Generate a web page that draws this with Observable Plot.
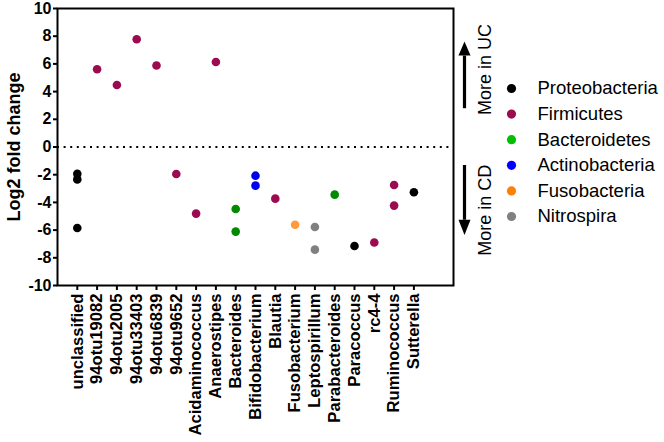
<!DOCTYPE html>
<html>
<head>
<meta charset="utf-8">
<script src="https://cdn.jsdelivr.net/npm/d3@7"></script>
<script src="https://cdn.jsdelivr.net/npm/@observablehq/plot@0.6"></script>
<style>
  html, body { margin: 0; padding: 0; background: white; }
  g[aria-label="y-axis tick label"] { font-size: 16px !important; font-weight: bold; }
  g[aria-label="x-axis tick label"] { font-size: 16.6px !important; font-weight: bold; }
</style>
</head>
<body>
<div id="chart"></div>
<script>
const genera = ["unclassified","94otu19082","94otu2005","94otu33403","94otu6839","94otu9652","Acidaminococcus","Anaerostipes","Bacteroides","Bifidobacterium","Blautia","Fusobacterium","Leptospirillum","Parabacteroides","Paracoccus","rc4-4","Ruminococcus","Sutterella"];
const phyla = ["Proteobacteria","Firmicutes","Bacteroidetes","Actinobacteria","Fusobacteria","Nitrospira"];
const dotColors = ["#000000","#9c0a4f","#008a00","#0000f0","#ff9a3a","#808080"];
const legendColors = ["#000000","#9c0a4f","#00c000","#0000ff","#ff8000","#808080"];
const yTicks = [-10,-8,-6,-4,-2,0,2,4,6,8,10];

const pointGenus = ["unclassified","unclassified","unclassified","94otu19082","94otu2005","94otu33403","94otu6839","94otu9652","Acidaminococcus","Anaerostipes","Bacteroides","Bacteroides","Bifidobacterium","Bifidobacterium","Blautia","Fusobacterium","Leptospirillum","Leptospirillum","Parabacteroides","Paracoccus","rc4-4","Ruminococcus","Ruminococcus","Sutterella"];
const pointValue = [-1.93,-2.34,-5.85,5.61,4.48,7.78,5.88,-1.95,-4.81,6.14,-4.48,-6.11,-2.07,-2.79,-3.73,-5.61,-5.78,-7.41,-3.44,-7.15,-6.9,-2.74,-4.23,-3.27];
const pointPhylum = ["Proteobacteria","Proteobacteria","Proteobacteria","Firmicutes","Firmicutes","Firmicutes","Firmicutes","Firmicutes","Firmicutes","Firmicutes","Bacteroidetes","Bacteroidetes","Actinobacteria","Actinobacteria","Firmicutes","Fusobacteria","Nitrospira","Nitrospira","Bacteroidetes","Proteobacteria","Firmicutes","Firmicutes","Firmicutes","Proteobacteria"];

const directionLabels = ["More in UC", "More in CD"];

const data = pointGenus.map((g, i) => ({x: genera.indexOf(g), y: pointValue[i], p: pointPhylum[i]}));

const W = 664, H = 442, mL = 57, mR = 211, mT = 8, mB = 157;
const pxPerX = (W - mL - mR) / 20;
const arrowX = 19 + 11 / pxPerX;
const headHalf = 6 / pxPerX;
const arrows = [
  {y0: 2.8, y1: 6.6, tip: 7.62, label: directionLabels[0], ly: 5.6},
  {y0: -1.3, y1: -5.25, tip: -6.35, label: directionLabels[1], ly: -4.57}
];

const font = "'Liberation Sans', Arial, Helvetica, sans-serif";

const legendMarks = phyla.flatMap((p, i) => [
  Plot.dot([p], {frameAnchor: "top-right", dx: 58, dy: 80 + i * 25.6, r: 4.6, fill: legendColors[i]}),
  Plot.text([p], {frameAnchor: "top-right", dx: 84, dy: 80 + i * 25.6, text: d => d, textAnchor: "start", lineAnchor: "middle", fontSize: 18.5, fill: "black"})
]);

const arrowMarks = arrows.flatMap(a => [
  Plot.link([a], {x1: arrowX, x2: arrowX, y1: d => d.y0, y2: d => d.y1, stroke: "black", strokeWidth: 3.2}),
  Plot.line([{x: arrowX - headHalf, y: a.y1}, {x: arrowX, y: a.tip}, {x: arrowX + headHalf, y: a.y1}], {x: "x", y: "y", fill: "black", stroke: "none"}),
  Plot.text([a], {frameAnchor: "right", dx: 32, y: d => d.ly, text: d => d.label, rotate: -90, textAnchor: "middle", lineAnchor: "middle", fontSize: 18, fill: "black"})
]);

const chart = Plot.plot({
  width: W, height: H,
  marginTop: mT, marginBottom: mB, marginLeft: mL, marginRight: mR,
  x: {domain: [-1, 19]},
  y: {domain: [-10, 10]},
  color: {domain: phyla, range: dotColors},
  style: {fontFamily: font, color: "black", background: "white", overflow: "visible"},
  marks: [
    Plot.ruleY([0], {strokeDasharray: "2,4.6", strokeWidth: 2}),
    Plot.axisY({ticks: yTicks, tickFormat: d => String(d), tickSize: 4, tickPadding: 2, strokeWidth: 2, fontSize: 16, fontWeight: "bold", label: null}),
    Plot.axisX({ticks: d3.range(genera.length), tickFormat: i => genera[i], tickRotate: -90, tickSize: 5, tickPadding: 3, strokeWidth: 2, fontSize: 16.6, fontWeight: "bold", label: null}),
    Plot.frame({strokeWidth: 2}),
    Plot.dot(data, {x: "x", y: "y", fill: "p", r: 4.3}),
    Plot.text(["Log2 fold change"], {frameAnchor: "left", dx: -43, rotate: -90, text: d => d, textAnchor: "middle", lineAnchor: "middle", fontSize: 18, fontWeight: "bold", fill: "black"}),
    ...arrowMarks,
    ...legendMarks
  ]
});
document.getElementById("chart").append(chart);
</script>
</body>
</html>
